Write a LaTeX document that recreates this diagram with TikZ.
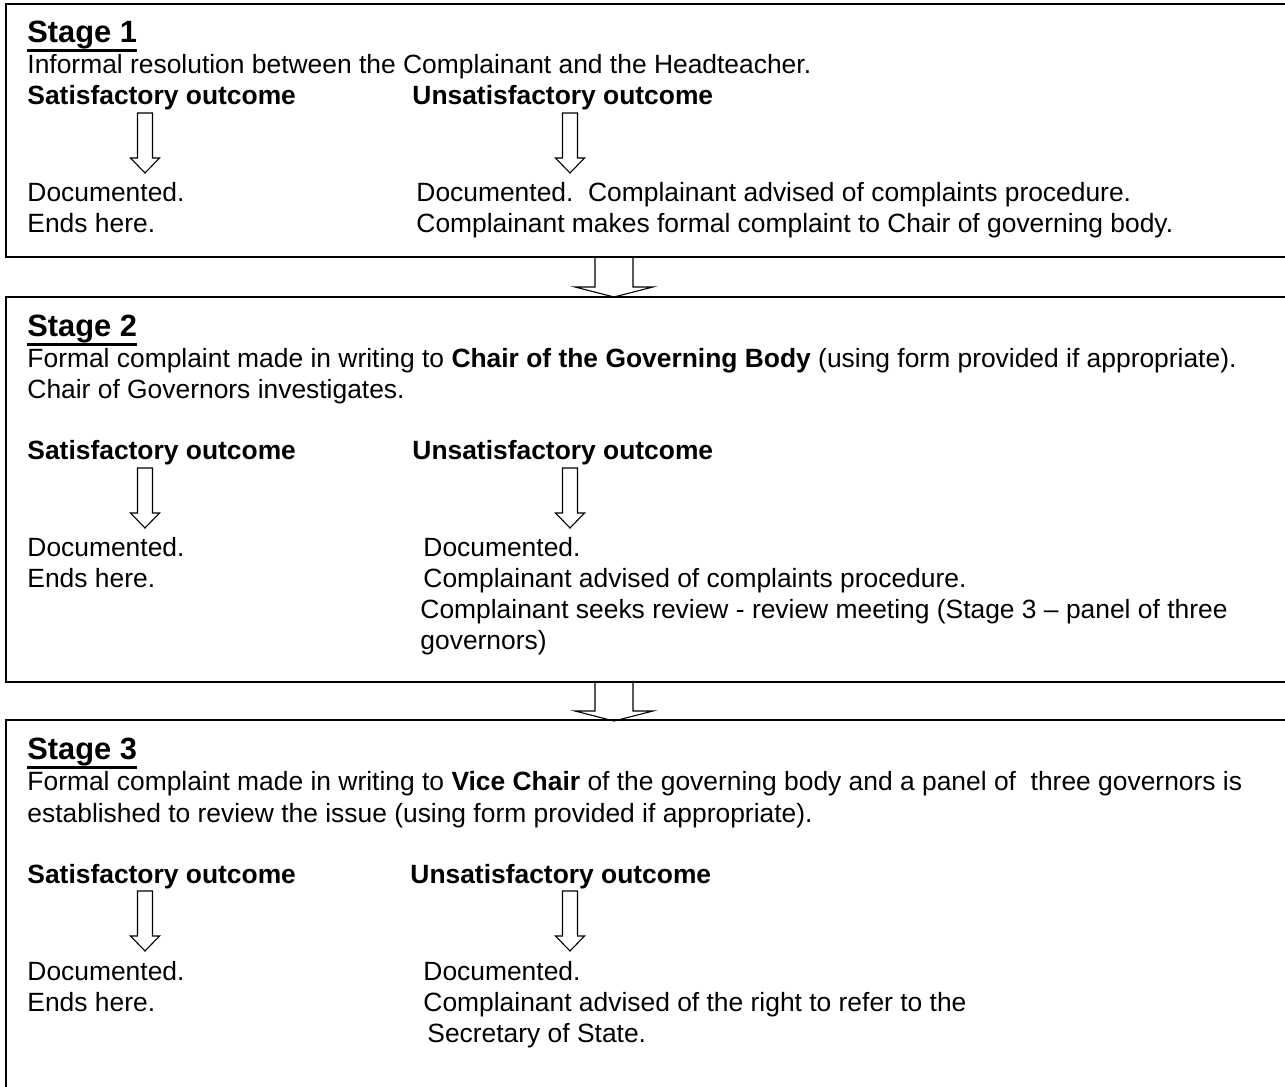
\documentclass[tikz,border=0pt]{standalone}
\usepackage{fontspec}
\setmainfont{Liberation Sans}
\usepackage{tikz}
\tikzset{
  txt/.style={anchor=base west,inner sep=0pt,font=\fontsize{12}{14}\selectfont},
  bld/.style={txt,font=\fontsize{12}{14}\selectfont\bfseries},
  stagehead/.style={txt,font=\fontsize{14}{16}\selectfont\bfseries},
  uline/.style={line width=1.45pt},
  frame/.style={draw,line width=0.85pt},
  blk/.style={draw,line width=0.5pt,line join=miter},
  pics/down/.style={code={\draw[blk] (-7.5,0) -- (-7.5,45) -- (-14.5,45) -- (0,60) -- (14.5,45) -- (7.5,45) -- (7.5,0) -- cycle;}},
  pics/bigdown/.style={code={\draw[blk] (-19,0) -- (-19,30) -- (-39,30) -- (0,40) -- (39,30) -- (19,30) -- (19,0);}}
}

\begin{document}
\begin{tikzpicture}[x=0.4545pt,y=-0.4545pt]
  \useasboundingbox (0,0) rectangle (1285,1087);
  \clip (0,0) rectangle (1285,1087);
  \draw[frame] (6,4) rectangle (1300,257);
  \draw[frame] (6,297) rectangle (1300,682);
  \draw[frame] (6,720) rectangle (1300,1110);
  \coordinate (j12) at (614,257);
  \coordinate (j23) at (614,681);
  \pic at (j12) {bigdown};
  \pic at (j23) {bigdown};

  \node[stagehead] (st1) at (27,43) {Stage 1};
  \draw[uline] ([yshift=-0.4pt]st1.south west) -- ([yshift=-0.4pt]st1.south east);
  \node[txt] (in1) at (27,74) {Informal resolution between the Complainant and the Headteacher.};
  \node[bld] (sat1) at (27,105) {Satisfactory outcome};
  \node[bld] (uns1) at (412,105) {Unsatisfactory outcome};
  \coordinate (a1) at (145,113);
  \coordinate (b1) at (570,113);
  \pic at (a1) {down};
  \pic at (b1) {down};
  \node[txt] (doc1) at (27,202) {Documented.};
  \node[txt] (udoc1) at (416,202) {Documented.~~Complainant advised of complaints procedure.};
  \node[txt] (end1) at (27,233) {Ends here.};
  \node[txt] (umk1) at (416,233) {Complainant makes formal complaint to Chair of governing body.};

  \node[stagehead] (st2) at (27,337) {Stage 2};
  \draw[uline] ([yshift=-0.4pt]st2.south west) -- ([yshift=-0.4pt]st2.south east);
  \node[txt] (in2) at (27,368) {Formal complaint made in writing to \textbf{Chair of the Governing Body} (using form provided if appropriate).};
  \node[txt] (inv2) at (27,399) {Chair of Governors investigates.};
  \node[bld] (sat2) at (27,460) {Satisfactory outcome};
  \node[bld] (uns2) at (412,460) {Unsatisfactory outcome};
  \coordinate (a2) at (145,468);
  \coordinate (b2) at (570,468);
  \pic at (a2) {down};
  \pic at (b2) {down};
  \node[txt] (doc2) at (27,557) {Documented.};
  \node[txt] (udoc2) at (423,557) {Documented.};
  \node[txt] (end2) at (27,588) {Ends here.};
  \node[txt] (uadv2) at (423,588) {Complainant advised of complaints procedure.};
  \node[txt] (usk2) at (420,619) {Complainant seeks review - review meeting (Stage 3 -- panel of three};
  \node[txt] (ugv2) at (420,650) {governors)};

  \node[stagehead] (st3) at (27,760) {Stage 3};
  \draw[uline] ([yshift=-0.4pt]st3.south west) -- ([yshift=-0.4pt]st3.south east);
  \node[txt] (in3) at (27,791) {Formal complaint made in writing to \textbf{Vice Chair} of the governing body and a panel of~ three governors is};
  \node[txt] (est3) at (27,822) {established to review the issue (using form provided if appropriate).};
  \node[bld] (sat3) at (27,883) {Satisfactory outcome};
  \node[bld] (uns3) at (410,883) {Unsatisfactory outcome};
  \coordinate (a3) at (145,891);
  \coordinate (b3) at (570,891);
  \pic at (a3) {down};
  \pic at (b3) {down};
  \node[txt] (doc3) at (27,980) {Documented.};
  \node[txt] (udoc3) at (423,980) {Documented.};
  \node[txt] (end3) at (27,1011) {Ends here.};
  \node[txt] (uadv3) at (423,1011) {Complainant advised of the right to refer to the};
  \node[txt] (usec3) at (427,1042) {Secretary of State.};
\end{tikzpicture}
\end{document}
